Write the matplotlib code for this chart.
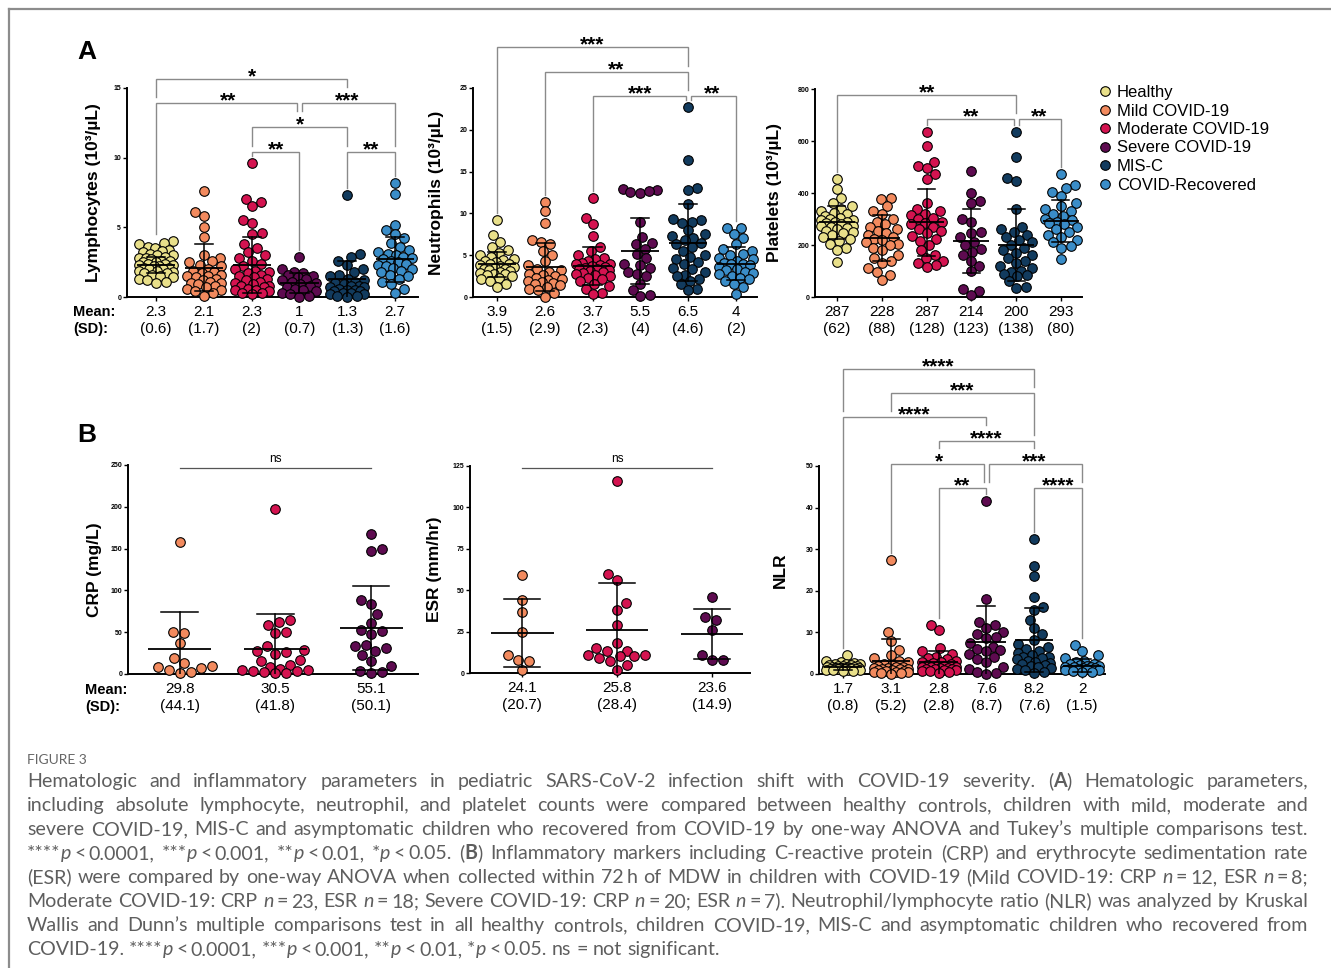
import numpy as np
import matplotlib
matplotlib.use("Agg")
import matplotlib.pyplot as plt
from matplotlib.lines import Line2D

plt.rcParams['font.family'] = ['Liberation Sans', 'DejaVu Sans']

W, H = 1331, 968

groups = ["Healthy", "Mild COVID-19", "Moderate COVID-19", "Severe COVID-19", "MIS-C", "COVID-Recovered"]
colors = ["#E9E08A", "#F28A5E", "#D41350", "#5E0B50", "#123B5E", "#3A8DC8"]

# ---- Lymphocytes (10^3/uL)
lym = [
    [4.0, 3.9, 3.8, 3.6, 3.5, 3.4, 3.3, 3.2, 3.1, 3.0, 3.0, 2.9, 2.8, 2.8, 2.7, 2.6, 2.6, 2.5, 2.5, 2.4, 2.4,
     2.3, 2.3, 2.2, 2.2, 2.1, 2.1, 2.0, 2.0, 1.9, 1.9, 1.8, 1.7, 1.7, 1.6, 1.5, 1.4, 1.3, 1.2, 1.1, 1.0],
    [7.6, 6.1, 5.8, 5.0, 4.3, 3.0, 2.8, 2.6, 2.5, 2.3, 2.2, 2.0, 1.9, 1.8, 1.7, 1.6, 1.5, 1.5, 1.4, 1.3,
     1.2, 1.1, 1.0, 1.0, 0.9, 0.8, 0.7, 0.6, 0.5, 0.4, 0.3, 0.1],
    [9.6, 7.0, 6.8, 6.5, 5.5, 5.3, 4.6, 4.5, 3.8, 3.5, 3.2, 3.0, 2.8, 2.6, 2.4, 2.2, 2.0, 1.9, 1.8, 1.7,
     1.6, 1.5, 1.4, 1.3, 1.2, 1.1, 1.0, 0.9, 0.8, 0.8, 0.7, 0.6, 0.5, 0.5, 0.4, 0.3, 0.3, 0.2],
    [2.9, 2.0, 1.8, 1.7, 1.6, 1.5, 1.4, 1.3, 1.2, 1.1, 1.0, 0.9, 0.8, 0.7, 0.6, 0.5, 0.4, 0.3, 0.2, 0.1, 0.0],
    [7.3, 3.1, 2.9, 2.6, 2.3, 2.0, 1.8, 1.6, 1.5, 1.3, 1.2, 1.1, 1.0, 0.9, 0.8, 0.8, 0.7, 0.7, 0.6, 0.5,
     0.5, 0.4, 0.4, 0.3, 0.3, 0.2, 0.2, 0.1, 0.1, 0.0],
    [8.2, 7.4, 5.2, 4.8, 4.5, 4.2, 3.9, 3.6, 3.4, 3.2, 3.1, 3.0, 2.9, 2.8, 2.7, 2.6, 2.5, 2.4, 2.3, 2.2,
     2.1, 2.0, 1.9, 1.8, 1.6, 1.5, 1.3, 1.1, 0.9, 0.6, 0.3],
]
lym_mean = [2.3, 2.1, 2.3, 1, 1.3, 2.7]
lym_sd = [0.6, 1.7, 2, 0.7, 1.3, 1.6]
lym_brackets = [(0, 4, 15.65, "*"), (0, 3, 13.9, "**"), (3, 5, 13.9, "***"),
                (2, 4, 12.2, "*"), (2, 3, 10.4, "**"), (4, 5, 10.4, "**")]

# ---- Neutrophils (10^3/uL)
neu = [
    [9.2, 7.4, 6.6, 6.0, 5.6, 5.3, 5.0, 4.8, 4.6, 4.4, 4.3, 4.2, 4.0, 3.9, 3.8, 3.7, 3.6, 3.5, 3.4, 3.3,
     3.2, 3.1, 3.0, 2.9, 2.8, 2.7, 2.6, 2.5, 2.3, 2.1, 1.9, 1.6, 1.2],
    [11.4, 10.3, 8.9, 6.8, 6.6, 6.3, 5.5, 5.0, 4.3, 3.8, 3.4, 3.2, 3.0, 2.8, 2.6, 2.5, 2.3, 2.2, 2.0, 1.9,
     1.8, 1.7, 1.5, 1.4, 1.2, 1.0, 0.8, 0.5, 0.0],
    [11.8, 9.5, 8.7, 7.3, 6.0, 5.5, 5.0, 4.7, 4.5, 4.3, 4.1, 4.0, 3.9, 3.8, 3.7, 3.6, 3.5, 3.4, 3.3, 3.2,
     3.1, 3.0, 2.9, 2.8, 2.6, 2.5, 2.3, 2.1, 1.9, 1.6, 1.3, 1.0, 0.5, 0.3],
    [12.9, 12.8, 12.6, 12.5, 12.7, 9.0, 7.2, 6.5, 6.3, 5.8, 5.2, 4.7, 4.0, 3.8, 3.5, 3.0, 2.7, 2.5, 1.6,
     0.8, 0.2, 0.1],
    [22.7, 16.4, 13.0, 12.8, 11.1, 9.3, 9.2, 9.0, 8.9, 8.0, 7.5, 7.3, 7.0, 6.8, 6.5, 6.3, 6.0, 5.5, 5.0,
     4.8, 4.5, 4.2, 3.9, 3.5, 3.3, 3.0, 2.6, 2.5, 2.2, 1.9, 1.5, 1.0, 0.8],
    [8.3, 8.2, 7.5, 7.0, 6.3, 5.8, 5.5, 5.2, 5.0, 4.7, 4.5, 4.3, 4.1, 4.0, 3.9, 3.8, 3.6, 3.4, 3.2, 3.0,
     2.9, 2.7, 2.5, 2.3, 2.1, 1.9, 1.5, 1.2, 0.4],
]
neu_mean = [3.9, 2.6, 3.7, 5.5, 6.5, 4]
neu_mean_line = [3.9, 3.6, 3.7, 5.5, 6.5, 4]
neu_sd = [1.5, 2.9, 2.3, 4, 4.6, 2]
neu_brackets = [(0, 4, 29.9, "***"), (1, 4, 26.9, "**"), (2, 4, 24.0, "***"), (4, 5, 24.0, "**")]

# ---- Platelets (10^3/uL)
plts = [
    [452, 415, 380, 360, 350, 340, 330, 325, 320, 310, 305, 300, 298, 295, 290, 288, 285, 280, 275, 272,
     268, 265, 260, 255, 250, 245, 238, 230, 222, 215, 205, 190, 180, 135],
    [382, 378, 350, 330, 320, 300, 290, 280, 270, 262, 255, 245, 238, 230, 225, 220, 212, 205, 200, 190,
     180, 160, 150, 140, 130, 110, 95, 85, 65],
    [636, 582, 520, 505, 495, 475, 455, 360, 340, 330, 320, 315, 305, 300, 290, 285, 280, 270, 262, 255,
     245, 235, 225, 215, 200, 180, 160, 150, 140, 130, 125, 115],
    [485, 400, 370, 360, 300, 290, 250, 245, 230, 210, 200, 185, 175, 160, 140, 120, 100, 30, 25, 8],
    [636, 540, 458, 445, 340, 270, 260, 250, 240, 230, 220, 210, 200, 190, 180, 170, 160, 150, 140, 130,
     120, 110, 100, 95, 90, 85, 80, 60, 40, 35],
    [475, 430, 420, 405, 390, 360, 350, 340, 330, 320, 310, 300, 295, 290, 285, 280, 270, 260, 250, 240,
     230, 220, 210, 195, 190, 145],
]
plt_mean = [287, 228, 287, 214, 200, 293]
plt_sd = [62, 88, 128, 123, 138, 80]
plt_brackets = [(0, 4, 777, "**"), (2, 4, 685, "**"), (4, 5, 685, "**")]

# ---- CRP (mg/L): Mild, Moderate, Severe
crp = [
    [158, 50, 49, 37, 19, 13, 9, 8, 7, 5, 2, 1],
    [197, 64, 62, 59, 50, 49, 33, 29, 28, 26, 24, 17, 16, 11, 8, 6, 5, 5, 4, 3, 2, 1, 1],
    [168, 149, 147, 89, 84, 72, 61, 53, 52, 48, 35, 33, 31, 27, 23, 15, 10, 3, 2, 1],
]
crp_mean = [29.8, 30.5, 55.1]
crp_sd = [44.1, 41.8, 50.1]

# ---- ESR (mm/hr)
esr = [
    [59, 44, 37, 25, 11, 8, 7, 2],
    [116, 60, 56, 42, 38, 29, 18, 15, 13, 13, 11, 11, 10, 10, 9, 7, 5, 2],
    [46, 34, 32, 26, 11, 8, 8],
]
esr_mean = [24.1, 25.8, 23.6]
esr_sd = [20.7, 28.4, 14.9]

# ---- NLR
nlr = [
    [4.6, 3.2, 2.8, 2.6, 2.5, 2.4, 2.3, 2.2, 2.1, 2.0, 1.9, 1.9, 1.8, 1.7, 1.6, 1.6, 1.5, 1.5, 1.4, 1.4,
     1.3, 1.2, 1.2, 1.1, 1.0, 1.0, 0.9, 0.9, 0.8, 0.7],
    [27.5, 10.1, 8.0, 5.8, 4.5, 3.8, 3.2, 2.8, 2.5, 2.2, 2.0, 1.8, 1.6, 1.5, 1.4, 1.3, 1.2, 1.1, 1.0, 0.9,
     0.8, 0.7, 0.6, 0.5, 0.4, 0.3, 0.2, 0.1],
    [11.8, 10.5, 6.2, 5.5, 4.8, 4.2, 3.8, 3.5, 3.2, 3.0, 2.8, 2.6, 2.4, 2.2, 2.0, 1.9, 1.8, 1.7, 1.6, 1.5,
     1.4, 1.3, 1.2, 1.1, 1.0, 0.9, 0.8, 0.7, 0.5, 0.3],
    [41.7, 18.0, 12.5, 11.8, 11.0, 10.2, 9.7, 9.0, 8.7, 7.5, 6.5, 6.0, 5.8, 5.5, 4.8, 4.0, 3.5, 2.8, 1.8,
     1.2, 0.6, 0.3, 0.1],
    [32.5, 26.0, 23.5, 18.5, 16.0, 15.5, 13.0, 11.0, 9.5, 8.2, 7.2, 6.5, 6.0, 5.5, 5.0, 4.6, 4.2, 4.0, 3.8,
     3.5, 3.2, 3.0, 2.7, 2.5, 2.2, 2.0, 1.7, 1.5, 1.2, 0.9, 0.5, 0.2],
    [7.0, 5.5, 4.5, 3.8, 3.2, 2.8, 2.5, 2.3, 2.1, 2.0, 1.9, 1.8, 1.7, 1.6, 1.5, 1.4, 1.3, 1.2, 1.1, 1.0,
     0.9, 0.8, 0.6, 0.4],
]
nlr_mean = [1.7, 3.1, 2.8, 7.6, 8.2, 2]
nlr_sd = [0.8, 5.2, 2.8, 8.7, 7.6, 1.5]
nlr_brackets = [(0, 4, 73.3, "****"), (1, 4, 67.5, "***"), (0, 3, 61.8, "****"), (2, 4, 56.0, "****"),
                (1, 3, 50.5, "*"), (3, 5, 50.5, "***"), (2, 3, 44.7, "**"), (4, 5, 44.7, "****")]

cap_lines = [
    "Hematologic and inflammatory parameters in pediatric SARS-CoV-2 infection shift with COVID-19 severity. (¤A¤) Hematologic parameters,",
    "including absolute lymphocyte, neutrophil, and platelet counts were compared between healthy controls, children with mild, moderate and",
    "severe COVID-19, MIS-C and asymptomatic children who recovered from COVID-19 by one-way ANOVA and Tukey’s multiple comparisons test.",
    "****§p§~<~0.0001, ***§p§~<~0.001, **§p§~<~0.01, *§p§~<~0.05. (¤B¤) Inflammatory markers including C-reactive protein (CRP) and erythrocyte sedimentation rate",
    "(ESR) were compared by one-way ANOVA when collected within 72~h of MDW in children with COVID-19 (Mild COVID-19: CRP §n§~=~12, ESR §n§~=~8;",
    "Moderate COVID-19: CRP §n§~=~23, ESR §n§~=~18; Severe COVID-19: CRP §n§~=~20; ESR §n§~=~7). Neutrophil/lymphocyte ratio (NLR) was analyzed by Kruskal",
    "Wallis and Dunn’s multiple comparisons test in all healthy controls, children COVID-19, MIS-C and asymptomatic children who recovered from",
    "COVID-19. ****§p§~<~0.0001, ***§p§~<~0.001, **§p§~<~0.01, *§p§~<~0.05. ns = not significant.",
]

fig = plt.figure(figsize=(W / 100, H / 100), dpi=100)
fig.patch.set_facecolor("white")

DIAM = 9.6  # marker diameter in px
MS = (DIAM * 0.72) ** 2


def fmt(v):
    return "%g" % v


def swarm(vals, ypx, xpx, d, maxw):
    vals = np.asarray(vals, float)
    off = np.zeros(len(vals))
    px, py = [], []
    side = 1
    for i in np.argsort(vals):
        y = vals[i] * ypx
        cands = [0.0]
        for k in range(1, int(maxw) + 1):
            cands += [side * k, -side * k]
        chosen, best, bestd = None, 0.0, -1
        ax_, ay_ = np.array(px), np.array(py)
        for x in cands:
            dm = np.min(np.hypot(ax_ - x, ay_ - y)) if len(px) else np.inf
            if dm >= d:
                chosen = x
                break
            if dm > bestd:
                bestd, best = dm, x
        if chosen is None:
            chosen = best
        if chosen != 0:
            side = -int(np.sign(chosen))
        px.append(chosen)
        py.append(y)
        off[i] = chosen / xpx
    return off


def draw_brackets(ax, brackets, data, ypx, xpx):
    fs = 15
    em = fs * 100 / 72
    for a, b, lev, lab in brackets:
        xa, xb = float(a), float(b)
        for a2, b2, lev2, _ in brackets:
            if lev2 == lev and (a2, b2) != (a, b):
                if b == a2:
                    xb -= 2.5 / xpx
                if a == b2:
                    xa += 2.5 / xpx
        ends = []
        for g in (a, b):
            obs = max(data[g]) + 7 / ypx
            for a2, b2, lev2, lab2 in brackets:
                if lev2 < lev and a2 <= g <= b2:
                    o = lev2 + 6 / ypx
                    hw = (len(lab2) * 0.39 * em / 2 + 3) / xpx
                    if abs(g - (a2 + b2) / 2) < hw:
                        o = lev2 + 16 / ypx
                    obs = max(obs, o)
            ends.append(min(obs, lev))
        ax.plot([xa, xa, xb, xb], [ends[0], lev, lev, ends[1]], color="#8a8a8a", lw=1.0,
                clip_on=False, zorder=2, solid_joinstyle="miter")
        ax.annotate(lab, xy=((a + b) / 2, lev), xytext=(0, -2.5), textcoords="offset points",
                    ha="center", va="baseline", fontsize=fs, fontweight="bold", annotation_clip=False)


def panel(box, xlim, ylim, yticks, data, cols, means, sds, ylabel, ylabel_x,
          mean_labels=None, brackets=None, ns_level=None, half_mean=0.4, spread=0.95):
    l, t, r, b = box
    ax = fig.add_axes([l / W, 1 - b / H, (r - l) / W, (b - t) / H])
    ax.set_xlim(*xlim)
    ax.set_ylim(*ylim)
    ypx = (b - t) / (ylim[1] - ylim[0])
    xpx = (r - l) / (xlim[1] - xlim[0])
    maxw = 0.37 * xpx
    for i, vals in enumerate(data):
        off = swarm(vals, ypx, xpx, DIAM * spread, maxw)
        ax.scatter(i + off, vals, s=MS, c=cols[i], edgecolors="black", linewidths=0.8,
                   zorder=3, clip_on=False)
        m, s = means[i], sds[i]
        ax.plot([i - half_mean, i + half_mean], [m, m], color="black", lw=1.3, zorder=4,
                solid_capstyle="butt")
        ax.plot([i, i], [max(m - s, 0), m + s], color="black", lw=1.1, zorder=4)
        ax.plot([i - 0.19, i + 0.19], [m + s, m + s], color="black", lw=1.1, zorder=4)
        if m - s > 0:
            ax.plot([i - 0.19, i + 0.19], [m - s, m - s], color="black", lw=1.1, zorder=4)
    for sp in ("top", "right"):
        ax.spines[sp].set_visible(False)
    for sp in ("left", "bottom"):
        ax.spines[sp].set_linewidth(1.4)
    ax.set_yticks(yticks)
    ax.set_xticks(range(len(data)))
    ax.set_xticklabels([])
    ax.tick_params(axis="y", length=3, width=1.0, labelsize=5, pad=1.2)
    ax.tick_params(axis="x", length=3, width=1.0)
    for lab in ax.get_yticklabels():
        lab.set_fontweight("bold")
    ax.patch.set_alpha(0)
    labels = mean_labels if mean_labels is not None else means
    for i in range(len(data)):
        ax.annotate(fmt(labels[i]), xy=(i, 0), xycoords=("data", "axes fraction"),
                    xytext=(0, -10.8), textcoords="offset points", ha="center", va="center",
                    fontsize=11, annotation_clip=False)
        ax.annotate("(" + fmt(sds[i]) + ")", xy=(i, 0), xycoords=("data", "axes fraction"),
                    xytext=(0, -23.2), textcoords="offset points", ha="center", va="center",
                    fontsize=11, annotation_clip=False)
    fig.text(ylabel_x / W, 1 - (t + b) / 2 / H, ylabel, rotation=90, ha="center", va="center",
             fontsize=12.5, fontweight="bold")
    if brackets:
        draw_brackets(ax, brackets, data, ypx, xpx)
    if ns_level is not None:
        ax.plot([0, len(data) - 1], [ns_level, ns_level], color="#555555", lw=0.9, clip_on=False)
        ax.annotate("ns", xy=((len(data) - 1) / 2, ns_level), xytext=(0, 2.5),
                    textcoords="offset points", ha="center", va="bottom", fontsize=8.5,
                    annotation_clip=False)
    return ax


panel((127, 88, 418, 297), (-0.61, 5.48), (0, 15), [0, 5, 10, 15], lym, colors, lym_mean, lym_sd,
      "Lymphocytes (10³/µL)", 93, brackets=lym_brackets)
panel((473, 88, 757, 297), (-0.5, 5.44), (0, 25), [0, 5, 10, 15, 20, 25], neu, colors,
      neu_mean_line, neu_sd, "Neutrophils (10³/µL)", 437, mean_labels=neu_mean,
      brackets=neu_brackets)
panel((815, 89, 1082, 297), (-0.49, 5.47), (0, 800), [0, 200, 400, 600, 800], plts, colors,
      plt_mean, plt_sd, "Platelets (10³/µL)", 775, brackets=plt_brackets)
panel((128, 465, 418, 674), (-0.54, 2.49), (0, 250), [0, 50, 100, 150, 200, 250], crp, colors[1:4],
      crp_mean, crp_sd, "CRP (mg/L)", 95, ns_level=246.4, half_mean=0.33, spread=1.1)
panel((470, 466, 750, 673), (-0.55, 2.4), (0, 125), [0, 25, 50, 75, 100, 125], esr, colors[1:4],
      esr_mean, esr_sd, "ESR (mm/hr)", 435, ns_level=123.8, half_mean=0.33, spread=1.1)
panel((819, 466, 1105, 674), (-0.5, 5.48), (0, 50), [0, 10, 20, 30, 40, 50], nlr, colors,
      nlr_mean, nlr_sd, "NLR", 780, brackets=nlr_brackets)

# overlay in pixel coordinates for frame, letters, row labels, caption
ov = fig.add_axes([0, 0, 1, 1])
ov.set_xlim(0, W)
ov.set_ylim(H, 0)
ov.axis("off")
ov.plot([9, W], [9, 9], color="#8c8c8c", lw=1.6)
ov.plot([9, 9], [9, H], color="#8c8c8c", lw=1.6)
ov.text(77, 59, "A", fontsize=19, fontweight="bold", va="baseline")
ov.text(77, 442, "B", fontsize=19, fontweight="bold", va="baseline")
for x0, y0 in ((73, 312), (85, 690)):
    ov.text(x0, y0, "Mean:", fontsize=10.5, fontweight="bold", va="center")
    ov.text(x0, y0 + 17, "(SD):", fontsize=10.5, fontweight="bold", va="center")

handles = [Line2D([], [], ls="none", marker="o", markersize=DIAM * 0.72, markerfacecolor=c,
                  markeredgecolor="black", markeredgewidth=0.8) for c in colors]
fig.legend(handles, groups, loc="upper left", bbox_to_anchor=(1097 / W, 1 - 85 / H), frameon=False,
           fontsize=12, handlelength=0.9, handletextpad=0.28, labelspacing=0.21, borderpad=0,
           borderaxespad=0)

# caption, justified like the journal page
cap_font = dict(family=["Lato", "DejaVu Sans"], color="#5e5e5e")
ov.text(27, 764, "FIGURE 3", fontsize=10, color="#666666", family=["Lato", "DejaVu Sans"], va="baseline")
rend = fig.canvas.get_renderer()


def parse(word):
    segs, cur, it, bd = [], "", False, False
    for ch in word:
        if ch in "§¤~":
            if cur:
                segs.append((cur, it, bd))
            cur = ""
            if ch == "§":
                it = not it
            elif ch == "¤":
                bd = not bd
            else:
                segs.append(("~", it, bd))
        else:
            cur += ch
    if cur:
        segs.append((cur, it, bd))
    return segs


def build(fs):
    out = []
    for li, line in enumerate(cap_lines):
        y = 787 + 24 * li
        wl = []
        for word in line.split(" "):
            items = []
            for txt, it, bd in parse(word):
                if txt == "~":
                    items.append([None, 0.16 * fs * 100 / 72])
                else:
                    t = ov.text(0, y, txt, fontsize=fs, va="baseline",
                                style="italic" if it else "normal",
                                fontweight="bold" if bd else "normal", **cap_font)
                    items.append([t, t.get_window_extent(rend).width])
            wl.append(items)
        out.append(wl)
    return out


def space_width(fs):
    a = ov.text(0, 0, "a a", fontsize=fs, **cap_font)
    b = ov.text(0, 0, "aa", fontsize=fs, **cap_font)
    w = a.get_window_extent(rend).width - b.get_window_extent(rend).width
    a.remove()
    b.remove()
    return w


x0, x1 = 27, 1308
fs = 12.0
lines = build(fs)
sw = space_width(fs)
last_nat = sum(w for it in lines[-1] for _, w in it) + sw * (len(lines[-1]) - 1)
max_nat = max(sum(w for it in wl for _, w in it) + sw * (len(wl) - 1) for wl in lines)
k = min(687 / last_nat, (x1 - x0) * 0.995 / max_nat)
for wl in lines:
    for items in wl:
        for it in items:
            if it[0] is not None:
                it[0].remove()
fs = fs * k
lines = build(fs)
sw = space_width(fs)

for li, wl in enumerate(lines):
    total = sum(w for items in wl for _, w in items)
    gap = (x1 - x0 - total) / (len(wl) - 1) if li < len(lines) - 1 else sw
    x = x0
    for items in wl:
        for t, w in items:
            if t is not None:
                t.set_x(x)
            x += w
        x += gap

fig.savefig("out.png", dpi=100)
